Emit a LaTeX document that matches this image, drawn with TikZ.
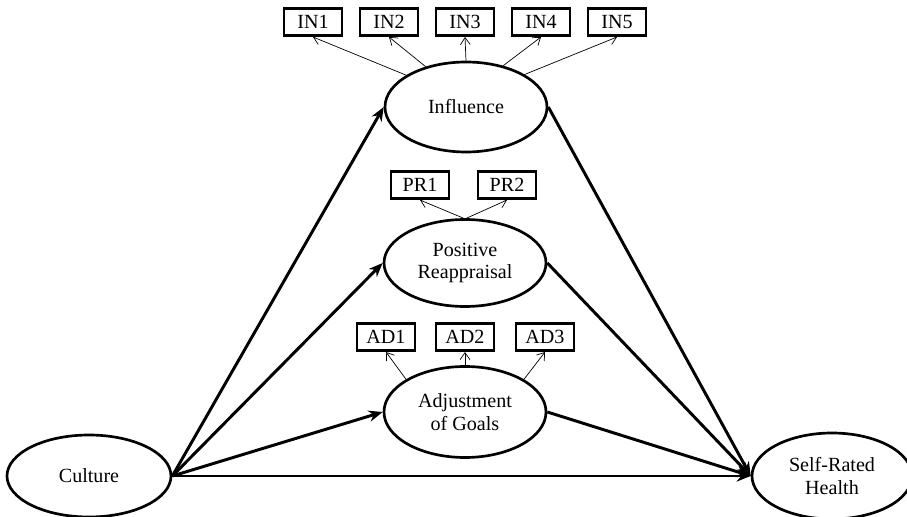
\documentclass[tikz,border=0pt]{standalone}
\usepackage{fontspec}
\setmainfont{Liberation Serif}
\usetikzlibrary{shapes.geometric,arrows.meta}
\begin{document}
\begin{tikzpicture}[
  every node/.style={font=\fontsize{14.3}{16.3}\selectfont},
  latent/.style={draw,ellipse,line width=1.9pt,inner sep=0pt,minimum width=4.05cm,minimum height=2.2cm,align=center},
  indicator/.style={draw,line width=2pt,inner sep=0pt,minimum width=1.45cm,minimum height=0.68cm},
  path/.style={line width=2.1pt,-{Stealth[length=10pt,width=8pt]}},
  load/.style={line width=0.5pt,-{Straight Barb[length=5pt,width=7pt]}}]
  \useasboundingbox (0,0) rectangle (22.675,12.925);
  \node[latent,minimum width=4.1cm,minimum height=2.05cm] (cult) at (2.225,1.025) {Culture};
  \node[latent,minimum width=4.0cm,minimum height=2.15cm] (srh) at (20.8,1.025) {Self-Rated\\Health};
  \node[latent,minimum height=2.25cm] (infl) at (11.65,10.25) {Influence};
  \node[latent,minimum height=2.175cm] (posr) at (11.625,6.35) {Positive\\Reappraisal};
  \node[latent,minimum height=2.275cm] (adjg) at (11.625,2.625) {Adjustment\\of Goals};
  \foreach \i in {1,...,5}
    \node[indicator] (in\i) at (5.925+1.9*\i,12.375) {IN\i};
  \node[indicator] (pr1) at (10.5,8.3) {PR1};
  \node[indicator] (pr2) at (12.675,8.3) {PR2};
  \node[indicator] (ad1) at (9.65,4.5) {AD1};
  \node[indicator] (ad2) at (11.625,4.5) {AD2};
  \node[indicator] (ad3) at (13.625,4.5) {AD3};
  \draw[load] (infl.152) -- (in1.south);
  \draw[load] (infl.135) -- (in2.south);
  \draw[load] (infl.90) -- (in3.south);
  \draw[load] (infl.48) -- (in4.south);
  \draw[load] (infl.29) -- (in5.south);
  \draw[load] (posr.92) -- (pr1.south);
  \draw[load] (posr.88) -- (pr2.south);
  \draw[load] (adjg.151) -- (ad1.south);
  \draw[load] (adjg.90) -- (ad2.south);
  \draw[load] (adjg.29) -- (ad3.south);
  \draw[path] (cult.east) -- (infl.west);
  \draw[path] (cult.east) -- (posr.west);
  \draw[path] (cult.east) -- (adjg.west);
  \draw[path] (cult.east) -- (srh.west);
  \draw[path] (infl.east) -- (srh.west);
  \draw[path] (posr.east) -- (srh.west);
  \draw[path] (adjg.east) -- (srh.west);
\end{tikzpicture}
\end{document}
